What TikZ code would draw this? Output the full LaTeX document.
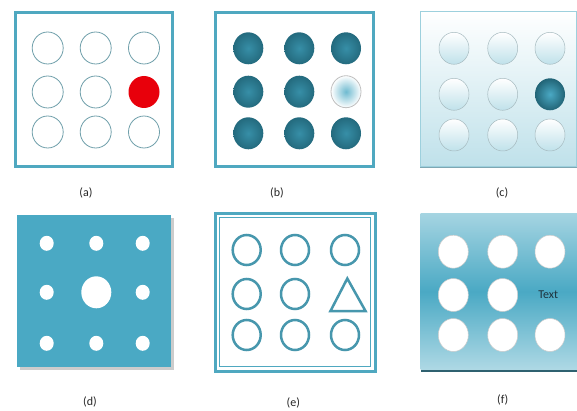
\documentclass[tikz,border=0pt]{standalone}
\usepackage{fontspec}
\setmainfont{Carlito}
\usetikzlibrary{shapes.geometric, positioning}

\definecolor{frameteal}{HTML}{4FA8C0}
\definecolor{ringgray}{HTML}{6F9FAA}
\definecolor{darkteal}{HTML}{2A7D94}
\definecolor{midteal}{HTML}{4AA9C4}
\definecolor{paleblue}{HTML}{BFE1EA}
\definecolor{shadowteal}{HTML}{2F6170}

\begin{document}
\begin{tikzpicture}[
  x=1pt, y=-1pt,
  frame/.style={draw=frameteal, line width=3pt},
  ring/.style={ellipse, draw=ringgray, line width=0.8pt, minimum width=31pt,
               minimum height=32pt, inner sep=0pt},
  dot/.style={ellipse, draw=none, inner sep=0pt},
  ball/.style={dot, minimum width=30pt, minimum height=32pt},
  caption/.style={font=\fontsize{12}{14}\selectfont, text=black!85},
]
\useasboundingbox (0,0) rectangle (577,411);
\fill[white] (0,0) rectangle (577,411);

% (a) outline rings, one red
\draw[frame] (15.5,12.5) rectangle (172.5,166.5);
\foreach \x [count=\c] in {47.7,95.7,144}
  \foreach \y [count=\r] in {48,92,132}
    {\ifnum\c\r=32
       \node[dot, minimum width=31pt, minimum height=32pt, fill={rgb,255:red,232;green,0;blue,11}] (a\c\r) at (\x,\y) {};
     \else
       \node[ring] (a\c\r) at (\x,\y) {};
     \fi}
\node[caption] (capa) at (86,193) {(a)};

% (b) dark balls, one light
\draw[frame] (215.5,12.5) rectangle (373.5,166.5);
\foreach \x [count=\c] in {248.3,299.3,346}
  \foreach \y [count=\r] in {48.3,91.7,133.3}
    {\ifnum\c\r=32
       \node[ball, draw=black!25, line width=0.8pt, inner color=midteal!80, outer color=white] (b\c\r) at (\x,\y) {};
     \else
       \node[ball, inner color=darkteal!60!midteal, outer color=darkteal!85!black] (b\c\r) at (\x,\y) {};
     \fi}
\node[caption] (capb) at (277,193) {(b)};

% (c) pale panel
\fill[shadowteal!45!paleblue] (420,160) rectangle (576.5,168.5);
\shade[top color=white, bottom color=paleblue, draw=paleblue!70!frameteal, line width=0.6pt]
  (420,11) rectangle (576.5,166);
\foreach \x [count=\c] in {454,502.7,550}
  \foreach \y [count=\r] in {48.3,94.3,135}
    {\ifnum\c\r=32
       \node[ball, inner color=midteal, outer color=darkteal!80!black] (c\c\r) at (\x,\y) {};
     \else
       \node[ball, draw=paleblue!60!gray, line width=0.5pt, top color=white, bottom color=paleblue] (c\c\r) at (\x,\y) {};
     \fi}
\node[caption] (capc) at (502,193) {(c)};

% (d) filled panel with holes
\fill[black!20] (20,218) rectangle (173.5,369.5);
\fill[midteal] (17.3,215) rectangle (170.7,366.7);
\foreach \x [count=\c] in {46.7,96.3,142.7}
  \foreach \y [count=\r] in {243.3,292.3,343.3}
    {\ifnum\c\r=22
       \node[dot, fill=white, minimum width=30pt, minimum height=32pt] (d\c\r) at (\x,\y) {};
     \else
       \node[dot, fill=white, minimum width=14pt, minimum height=15pt] (d\c\r) at (\x,\y) {};
     \fi}
\node[caption] (capd) at (90,402) {(d)};

% (e) double frame, rings and a triangle
\draw[frame] (215,213.3) rectangle (375,371);
\draw[draw=frameteal, line width=1.3pt] (219.3,217.6) rectangle (370.7,366.7);
\foreach \x [count=\c] in {246.7,295,345}
  \foreach \y [count=\r] in {250,294,335}
    {\ifnum\c\r=32 \else
       \node[ring, draw=frameteal!90!black, line width=2.5pt, minimum width=28pt, minimum height=30pt] (e\c\r) at (\x,\y) {};
     \fi}
\draw[draw=frameteal!90!black, line width=2.5pt, line join=miter]
  (330.5,311) -- (347.3,278.5) -- (365.5,311) -- cycle;
\node[caption] (cape) at (293.3,403) {(e)};

% (f) shaded panel with white discs and text
\fill[shadowteal] (420.7,365) rectangle (577,372);
\shade[top color=midteal!50!white, bottom color=midteal!45!white, middle color=midteal]
  (420.7,214) rectangle (577,369);
\foreach \x [count=\c] in {453.3,502.7,550}
  \foreach \y [count=\r] in {251.7,295,335}
    {\ifnum\c\r=32 \else
       \node[dot, draw=black!20, line width=0.5pt, fill=white, minimum width=30pt, minimum height=33pt] (f\c\r) at (\x,\y) {};
     \fi}
\node[font=\fontsize{12}{14}\selectfont, text={rgb,255:red,30;green,50;blue,60}] (ftext) at (548.3,295) {Text};
\node[caption] (capf) at (502.7,400) {(f)};
\end{tikzpicture}
\end{document}
